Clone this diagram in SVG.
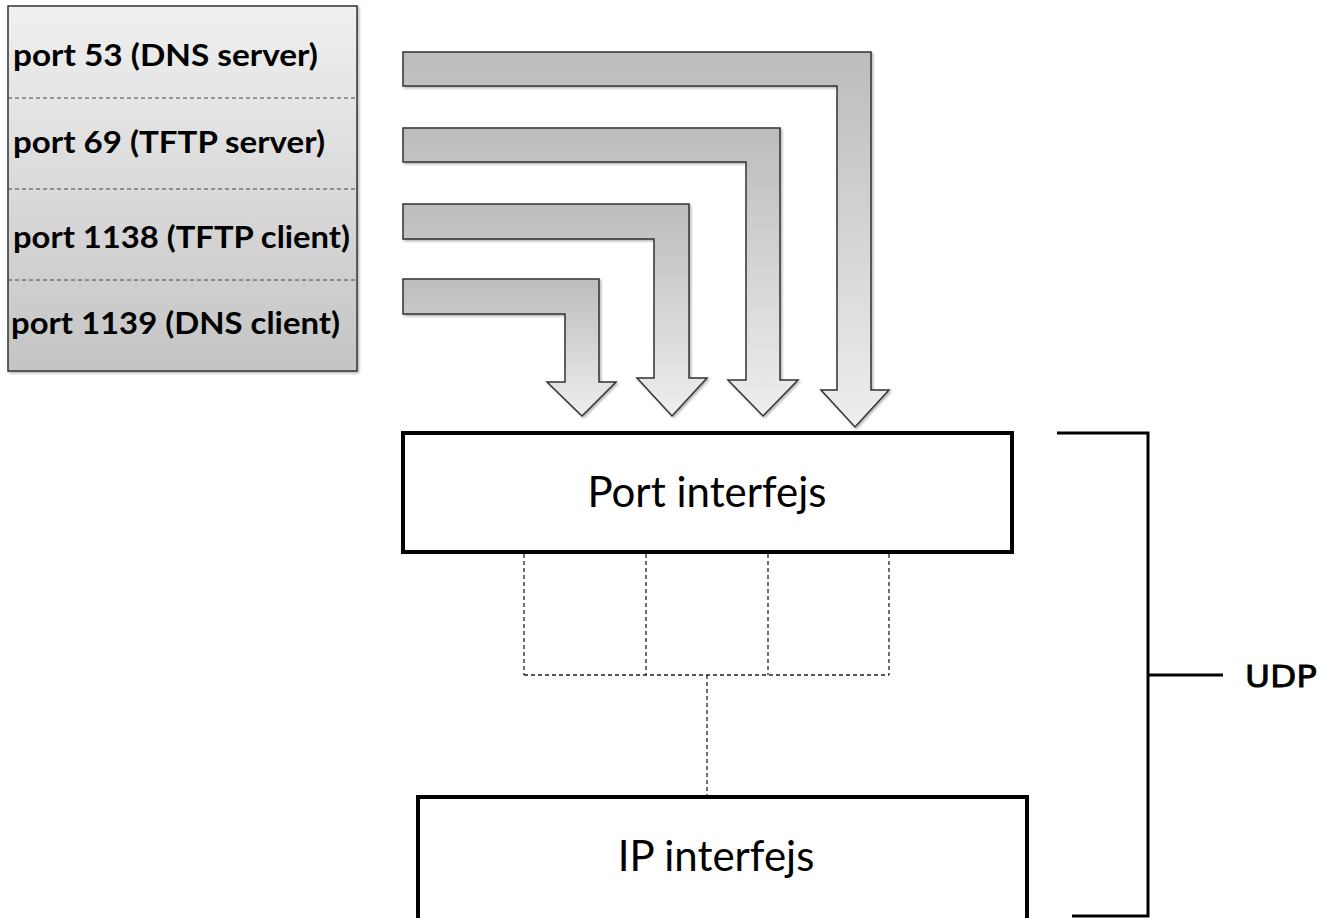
<svg xmlns="http://www.w3.org/2000/svg" width="1323" height="918" viewBox="0 0 1323 918">
<defs>
<linearGradient id="gBox" x1="0" y1="0" x2="0" y2="1">
<stop offset="0" stop-color="#f0f0f0"/>
<stop offset="1" stop-color="#c4c4c4"/>
</linearGradient>
<linearGradient id="gArr" x1="0" y1="0" x2="0" y2="1">
<stop offset="0" stop-color="#bcbcbc"/>
<stop offset="1" stop-color="#eeeeee"/>
</linearGradient>
<filter id="sh" x="-5%" y="-5%" width="110%" height="110%">
<feDropShadow dx="1.5" dy="1.5" stdDeviation="1.2" flood-color="#000" flood-opacity="0.3"/>
</filter>
</defs>
<style>
.port{font-family:Lato,"Liberation Sans",sans-serif;font-weight:bold;font-size:31px;fill:#000}
.sep{stroke:#444;stroke-width:1;stroke-dasharray:4 3;fill:none}
.arr{fill:url(#gArr);stroke:#333;stroke-width:1.5;stroke-linejoin:miter;filter:url(#sh)}
.box{fill:#fff;stroke:#000;stroke-width:4}
.lbl{font-family:Lato,"Liberation Sans",sans-serif;font-size:42px;fill:#000;text-anchor:middle}
.dash{stroke:#222;stroke-width:1.3;stroke-dasharray:4 3;fill:none}
.br{stroke:#000;stroke-width:3;fill:none}
</style>
<rect width="1323" height="918" fill="#fff"/>
<g id="ports">
<rect x="8" y="6" width="349" height="365" fill="url(#gBox)" stroke="#333" stroke-width="1.5" filter="url(#sh)"/>
<line class="sep" x1="8" y1="98" x2="357" y2="98"/>
<line class="sep" x1="8" y1="189" x2="357" y2="189"/>
<line class="sep" x1="8" y1="280" x2="357" y2="280"/>
<text class="port" x="13" y="66" textLength="305" lengthAdjust="spacingAndGlyphs">port 53 (DNS server)</text>
<text class="port" x="13" y="153" textLength="312" lengthAdjust="spacingAndGlyphs">port 69 (TFTP server)</text>
<text class="port" x="13" y="248" textLength="337" lengthAdjust="spacingAndGlyphs">port 1138 (TFTP client)</text>
<text class="port" x="11" y="334" textLength="329" lengthAdjust="spacingAndGlyphs">port 1139 (DNS client)</text>
</g>
<g id="connectors">
<path class="arr" d="M403,52 H871 V390 H889 L855,427 L821,390 H837 V86 H403 Z"/>
<path class="arr" d="M403,128 H780 V380 H798 L763,416 L728,380 H746 V162 H403 Z"/>
<path class="arr" d="M403,204 H689 V378 H707 L672,416 L637,378 H654 V239 H403 Z"/>
<path class="arr" d="M403,279 H599 V382 H616 L582,416 L547,382 H565 V314 H403 Z"/>
<path class="dash" d="M524,554 V675 M646,554 V675 M768,554 V675 M889,554 V675 M524,675 H889 M707,675 V796"/>
</g>
<g id="port-interfejs">
<rect class="box" x="403" y="433" width="609" height="119"/>
<text class="lbl" x="707" y="507">Port interfejs</text>
</g>
<g id="ip-interfejs">
<rect class="box" x="418" y="797" width="609" height="125"/>
<text class="lbl" x="716" y="871">IP interfejs</text>
</g>
<g id="udp">
<path class="br" d="M1057,433 H1148 V916 H1072 M1148,675 H1223"/>
<text x="1245" y="687" font-family="DejaVu Sans, sans-serif" font-size="31" fill="#000" stroke="#000" stroke-width="0.8" textLength="72" lengthAdjust="spacingAndGlyphs">UDP</text>
</g>
</svg>
